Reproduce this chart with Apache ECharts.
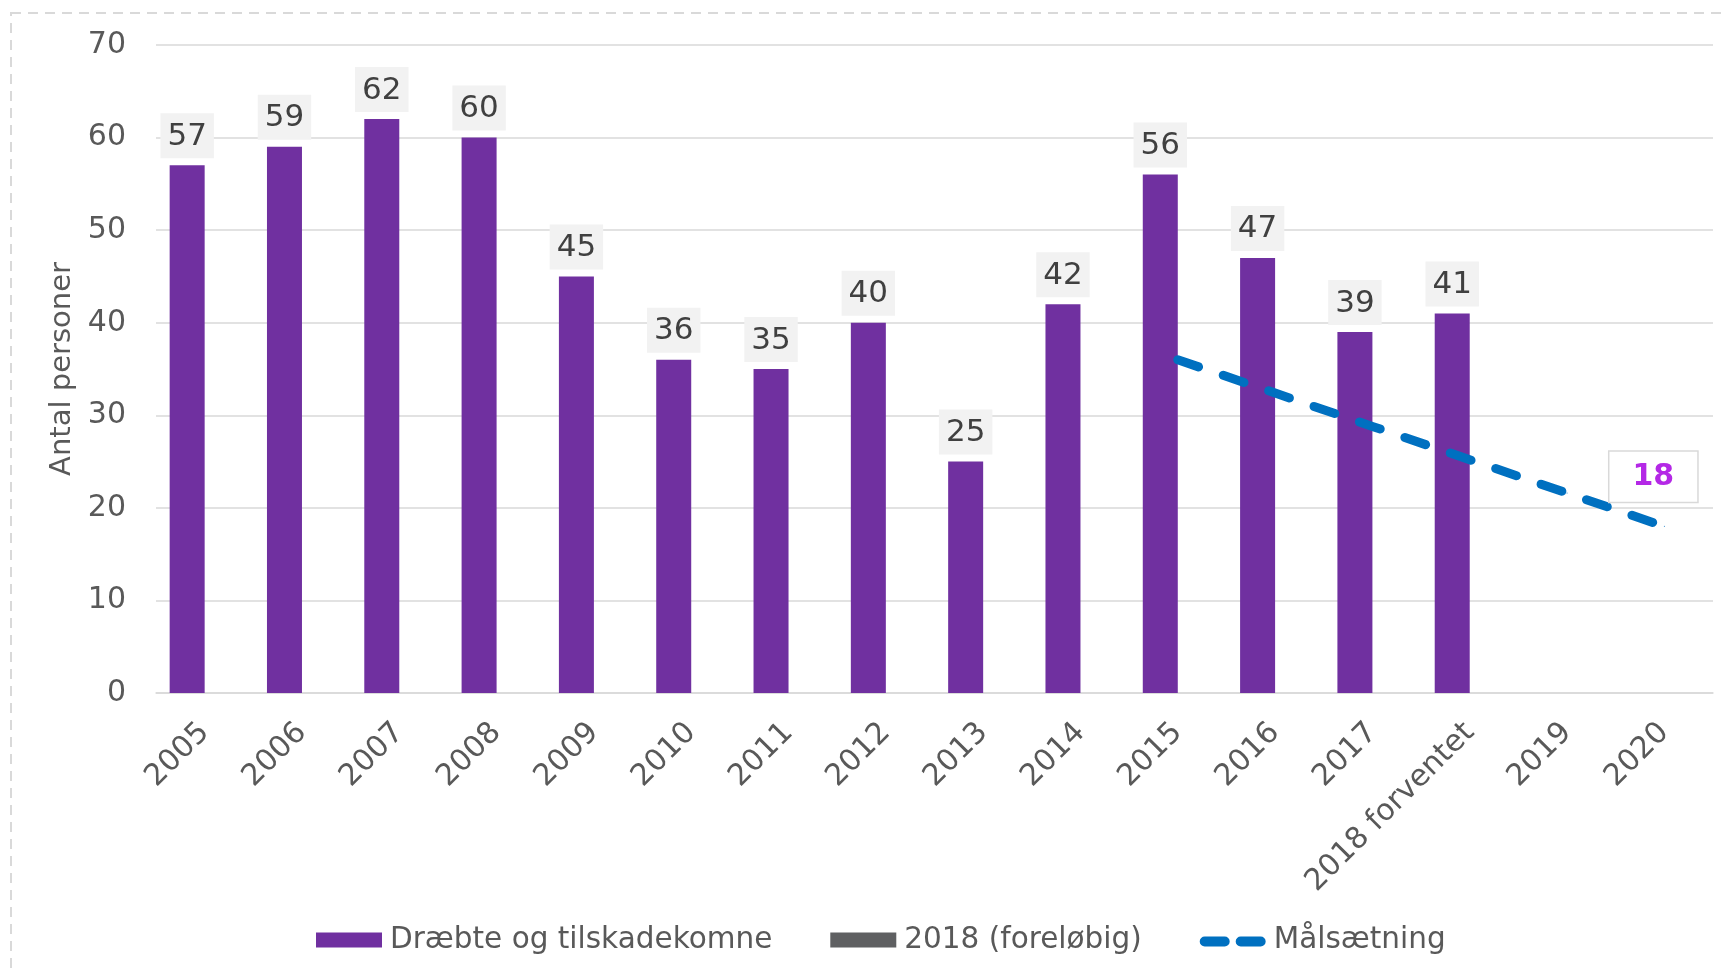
<!DOCTYPE html>
<html>
<head>
<meta charset="utf-8">
<script src="https://cdn.jsdelivr.net/npm/echarts@6/dist/echarts.min.js"></script>
<style>
	html,body{margin:0;padding:0;background:#fff;}
	#chart{width:1725px;height:974px;}
</style>
</head>
<body>
<div id="chart"></div>
<script>
// 数据
var years = ['2005','2006','2007','2008','2009','2010','2011','2012','2013','2014','2015','2016','2017','2018 forventet','2019','2020'];
var killed = [57, 59, 62, 60, 45, 36, 35, 40, 25, 42, 56, 47, 39, 41, '-', '-'];
var prelim = ['-', '-', '-', '-', '-', '-', '-', '-', '-', '-', '-', '-', '-', '-', '-', '-'];
var target = ['-', '-', '-', '-', '-', '-', '-', '-', '-', '-', 36, 32.4, 28.8, 25.2, 21.6, 18];
var yTicks = [0, 10, 20, 30, 40, 50, 60, 70];

var font = 'DejaVu Sans';
var myChart = echarts.init(document.getElementById('chart'));

// 最后一个点显示标签
var targetData = [];
for(var i=0;i<target.length;i++){
	if(i == target.length-1){
		targetData.push({
			value: target[i],
			label: {
				show: true,
				position: 'top',
				distance: 24,
				offset: [-11, 0],
				formatter: '{c}',
				color: '#B428E6',
				fontWeight: 'bold',
				fontSize: 30,
				fontFamily: font,
				backgroundColor: '#fff',
				borderColor: '#D9D9D9',
				borderWidth: 1.5,
				padding: [10, 23]
			}
		});
	}else{
		targetData.push(target[i]);
	}
}

// 图例虚线图标(两段圆头)
var dashIcon = 'path://M0,-2 L0.01,-2 L0,-2.01 Z M5,2 H25 A5,5 0 0 1 25,12 H5 A5,5 0 0 1 5,2 Z M41,2 H61 A5,5 0 0 1 61,12 H41 A5,5 0 0 1 41,2 Z M66,13 L65.99,13 L66,12.99 Z';

var option = {
	animation: false,
	textStyle: {fontFamily: font},
	// 虚线外框
	graphic: [{
		type: 'rect',
		shape: {x: 11, y: 13, width: 1800, height: 1100},
		style: {fill: 'none', stroke: '#D9D9D9', lineWidth: 2, lineDash: [10, 7]},
		silent: true
	}],
	grid: {
		left: 156,
		right: 12,
		top: 45,
		bottom: 281
	},
	legend: {
		left: 311,
		top: 920,
		itemWidth: 66,
		itemHeight: 15,
		itemGap: 58,
		textStyle: {color: '#595959', fontSize: 29.5, fontFamily: font, padding: [0, 0, 0, 3]},
		data: [
			{name: 'Dræbte og tilskadekomne', icon: 'rect'},
			{name: '2018 (foreløbig)', icon: 'rect'},
			{name: 'Målsætning', icon: dashIcon, itemStyle: {color: '#0070C0'}}
		]
	},
	xAxis: {
		type: 'category',
		data: years,
		axisLine: {lineStyle: {color: '#D9D9D9', width: 1.5}},
		axisTick: {show: false},
		axisLabel: {
			rotate: 45,
			interval: 0,
			margin: 35,
			color: '#595959',
			fontSize: 30,
			fontFamily: font
		}
	},
	yAxis: {
		type: 'value',
		min: yTicks[0],
		max: yTicks[yTicks.length-1],
		interval: 10,
		name: 'Antal personer',
		nameLocation: 'middle',
		nameGap: 78,
		nameTextStyle: {color: '#595959', fontSize: 29, fontFamily: font},
		axisLine: {show: false},
		axisTick: {show: false},
		axisLabel: {margin: 30, color: '#595959', fontSize: 30, fontFamily: font},
		splitLine: {lineStyle: {color: '#D9D9D9', width: 1.5}}
	},
	series: [{
		name: 'Dræbte og tilskadekomne',
		type: 'bar',
		data: killed,
		barWidth: 35,
		barGap: '0%',
		itemStyle: {color: '#7030A0'},
		label: {
			show: true,
			position: 'top',
			distance: 7,
			color: '#404040',
			fontSize: 31,
			fontFamily: font,
			backgroundColor: '#F2F2F2',
			padding: [8, 7, 6, 7]
		}
	},{
		name: '2018 (foreløbig)',
		type: 'bar',
		data: prelim,
		barWidth: 35,
		barGap: '0%',
		itemStyle: {color: '#5F6062'}
	},{
		name: 'Målsætning',
		type: 'line',
		data: targetData,
		symbol: 'circle',
		symbolSize: 1,
		lineStyle: {color: '#0070C0', width: 9, type: [22, 26], cap: 'round'},
		itemStyle: {color: '#0070C0'},
		z: 5
	}]
};
myChart.setOption(option);
</script>
</body>
</html>
